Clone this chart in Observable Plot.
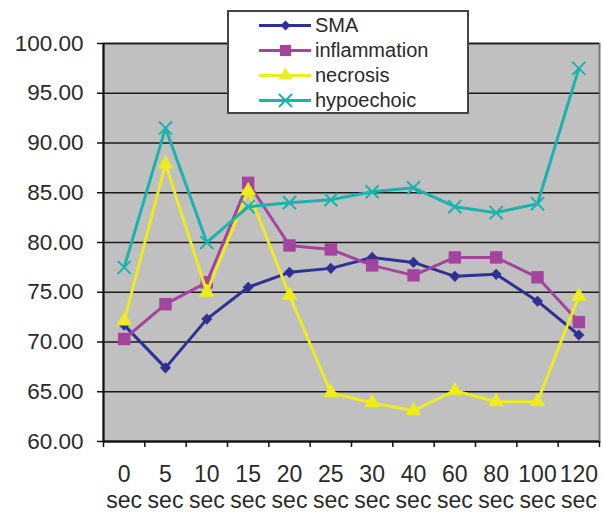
<!DOCTYPE html>
<html>
<head>
<meta charset="utf-8">
<script src="https://cdn.jsdelivr.net/npm/d3@7"></script>
<script src="https://cdn.jsdelivr.net/npm/@observablehq/plot@0.6"></script>
<style>
  html, body { margin: 0; padding: 0; background: #fff; }
  #wrap { position: relative; width: 603px; height: 513px; font-family: "Liberation Sans", Arial, sans-serif; }
  #legend { position: absolute; left: 227px; top: 10px; width: 238px; height: 100px; background: #fff; border: 2px solid #444; box-sizing: content-box; }
  .item { position: absolute; left: 30px; height: 24px; display: flex; align-items: center; font-size: 20px; color: #2a2a2a; }
  .item svg { margin-right: 4px; }
</style>
</head>
<body>
<div id="wrap"><div id="chart"></div><div id="legend"></div></div>
<script>
const categories = ["0 sec","5 sec","10 sec","15 sec","20 sec","25 sec","30 sec","40 sec","60 sec","80 sec","100 sec","120 sec"];
const seriesNames = ["SMA","inflammation","necrosis","hypoechoic"];
const sma          = [71.7, 67.4, 72.3, 75.5, 77.0, 77.4, 78.5, 78.0, 76.6, 76.8, 74.1, 70.7];
const inflammation = [70.3, 73.8, 76.0, 86.0, 79.7, 79.3, 77.7, 76.7, 78.5, 78.5, 76.5, 72.0];
const necrosis     = [72.1, 87.9, 75.0, 85.2, 74.7, 64.9, 63.9, 63.1, 65.1, 64.0, 64.0, 74.6];
const hypoechoic   = [77.5, 91.5, 80.0, 83.6, 84.0, 84.3, 85.1, 85.5, 83.6, 83.0, 83.9, 97.5];
const yTicks = [60, 65, 70, 75, 80, 85, 90, 95, 100];

const colors  = {SMA: "#2e3192", inflammation: "#a3449e", necrosis: "#ecec1e", hypoechoic: "#1ab3ad"};
const symbols = {SMA: "diamond2", inflammation: "square", necrosis: "triangle", hypoechoic: "times"};
const sizes   = {SMA: 5, inflammation: 7, necrosis: 5.8, hypoechoic: 6};

const valuesBy = {SMA: sma, inflammation, necrosis, hypoechoic};
const rows = [];
for (const s of seriesNames) valuesBy[s].forEach((v, i) => rows.push({series: s, i, value: v}));

const idx = d3.range(categories.length);
const bounds = d3.range(-0.5, categories.length, 1);

const marks = [
  Plot.frame({fill: "#c0c0c0", stroke: "#777", strokeWidth: 2}),
  Plot.ruleY(yTicks, {stroke: "#1a1a1a", strokeWidth: 1.5}),
  Plot.ruleX([-0.5], {stroke: "#111", strokeWidth: 2}),
  Plot.ruleY([60], {stroke: "#111", strokeWidth: 2}),
  Plot.axisY({ticks: yTicks, tickFormat: d3.format(".2f"), tickSize: 6, tickPadding: 14, fontSize: 22.5, fill: "#2a2a2a", stroke: "#111", strokeWidth: 1.5, label: null}),
  Plot.axisX({ticks: bounds, tickFormat: () => "", tickSize: 6, stroke: "#111", strokeWidth: 1.5, label: null}),
  Plot.axisX({ticks: idx, tickFormat: i => categories[i].replace(" ", "\n"), tickSize: 0, tickPadding: 23, fontSize: 23, lineHeight: 1.1, fill: "#2a2a2a", label: null})
];
for (const s of seriesNames) {
  const data = rows.filter(d => d.series === s);
  marks.push(Plot.line(data, {x: "i", y: "value", stroke: colors[s], strokeWidth: 3}));
  if (symbols[s] === "times") {
    marks.push(Plot.dot(data, {x: "i", y: "value", symbol: "times", r: sizes[s], stroke: colors[s], strokeWidth: 2}));
  } else {
    marks.push(Plot.dot(data, {x: "i", y: "value", symbol: symbols[s], r: sizes[s], fill: colors[s], stroke: "none"}));
  }
}

const chart = Plot.plot({
  width: 603,
  height: 513,
  marginLeft: 103,
  marginRight: 4,
  marginTop: 43,
  marginBottom: 72,
  style: {background: "#fff", fontFamily: "'Liberation Sans', Arial, sans-serif"},
  x: {type: "linear", domain: [-0.5, categories.length - 0.5], axis: null},
  y: {domain: [60, 100], axis: null},
  marks
});
document.getElementById("chart").appendChild(chart);

// Legend (swatches drawn with Plot)
const legend = document.getElementById("legend");
seriesNames.forEach((s, k) => {
  const item = document.createElement("div");
  item.className = "item";
  item.style.top = (1 + k * 25) + "px";
  const sw = Plot.plot({
    width: 52, height: 22, margin: 0,
    x: {domain: [0, 1], axis: null}, y: {domain: [0, 1], axis: null},
    style: {background: "transparent"},
    marks: [
      Plot.line([{x: 0, y: 0.5}, {x: 1, y: 0.5}], {x: "x", y: "y", stroke: colors[s], strokeWidth: 3}),
      symbols[s] === "times"
        ? Plot.dot([{x: 0.5, y: 0.5}], {x: "x", y: "y", symbol: "times", r: sizes[s], stroke: colors[s], strokeWidth: 2})
        : Plot.dot([{x: 0.5, y: 0.5}], {x: "x", y: "y", symbol: symbols[s], r: sizes[s] * 0.9, fill: colors[s], stroke: "none"})
    ]
  });
  item.appendChild(sw);
  const t = document.createElement("span");
  t.textContent = s;
  item.appendChild(t);
  legend.appendChild(item);
});
</script>
</body>
</html>
